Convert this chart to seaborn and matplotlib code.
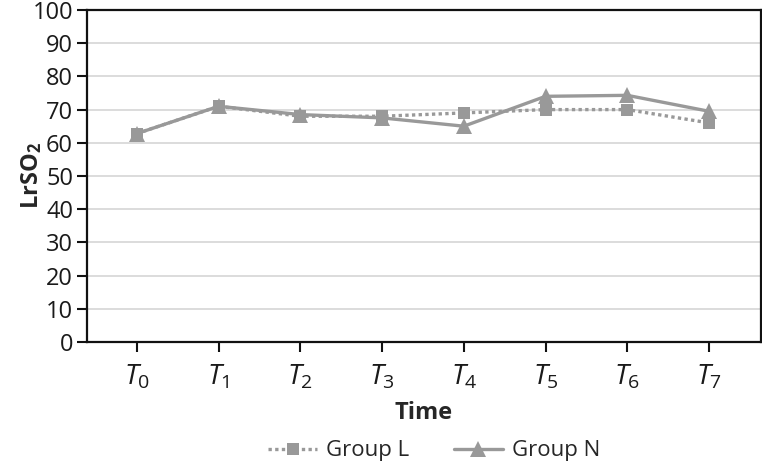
import numpy as np
import pandas as pd
import matplotlib
matplotlib.use("Agg")
import matplotlib.pyplot as plt
import seaborn as sns

times = ["T0", "T1", "T2", "T3", "T4", "T5", "T6", "T7"]
tick_labels = [r"$T_{\mathregular{%d}}$" % i for i in range(8)]
group_l = [62.8, 71.0, 68.0, 68.0, 69.0, 70.0, 70.0, 66.0]
group_n = [62.8, 71.0, 68.5, 67.5, 65.0, 74.0, 74.3, 69.5]
yticks = list(range(0, 101, 10))

sns.set_theme(style="white")
plt.rcParams["font.family"] = ["Open Sans", "DejaVu Sans"]
plt.rcParams["mathtext.fontset"] = "custom"
plt.rcParams["mathtext.it"] = "Open Sans:italic"
plt.rcParams["mathtext.rm"] = "Open Sans"

fig = plt.figure(figsize=(7.62, 4.65), dpi=100)
ax = fig.add_axes([87/762, 1-342/465, (761-87)/762, (342-10)/465])

x = np.arange(len(times))
df_l = pd.DataFrame({"x": x, "y": group_l})
df_n = pd.DataFrame({"x": x, "y": group_n})
grey = "#999999"

sns.lineplot(data=df_l, x="x", y="y", ax=ax, color=grey, linewidth=2.4,
             linestyle=(0, (1, 1)), marker="s", markersize=9,
             markeredgewidth=0, label="Group L")
sns.lineplot(data=df_n, x="x", y="y", ax=ax, color=grey, linewidth=2.4,
             linestyle="-", marker="^", markersize=12,
             markeredgewidth=0, label="Group N")

ax.set_xlim(-0.612, 7.637)
ax.set_ylim(0, 100)
ax.set_yticks(yticks)
ax.set_yticklabels([str(v) for v in yticks], fontsize=17, color="#1a1a1a")
ax.set_xticks(x)
ax.set_xticklabels(tick_labels, fontsize=20, color="#1a1a1a")
ax.yaxis.grid(True, color="#d9d9d9", linewidth=1.3)
ax.set_axisbelow(True)
for s in ax.spines.values():
    s.set_visible(True)
    s.set_color("#111111")
    s.set_linewidth(1.6)
ax.tick_params(axis="both", direction="out", length=7, width=1.5, color="#111111",
               left=True, bottom=True, pad=3)
ax.tick_params(axis="x", pad=8)

ax.set_xlabel("Time", fontsize=17, fontweight="bold", labelpad=7)
ax.set_ylabel(r"LrSO$_{\mathregular{2}}$", fontsize=17, fontweight="bold")
ax.yaxis.set_label_coords(-0.064, 0.5)

ax.legend(loc="center", bbox_to_anchor=(0.515, -0.328), ncol=2,
          frameon=False, fontsize=16, handlelength=2.2, columnspacing=2.0,
          handletextpad=0.4, borderpad=0.1)

fig.savefig("out.png", dpi=100)
